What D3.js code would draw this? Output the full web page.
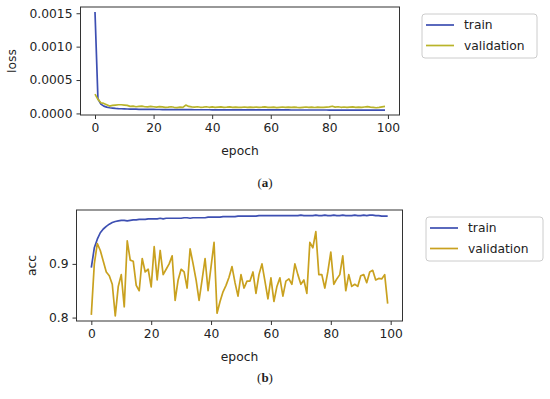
<!DOCTYPE html>
<html>
<head>
<meta charset="utf-8">
<script src="https://cdn.jsdelivr.net/npm/d3@7"></script>
<style>
  html, body { margin: 0; padding: 0; background: #fff; }
  svg { display: block; }
  text { font-family: "DejaVu Sans", sans-serif; fill: #222; }
  .caption { font-family: "Liberation Serif", "Times New Roman", serif; }
</style>
</head>
<body>
<svg id="chart" width="550" height="399"></svg>
<script>
// Training history: loss (a) and accuracy (b) over 100 epochs

const epochs = d3.range(100);
const xTicks = [0, 20, 40, 60, 80, 100];
const lossTicks = [0, 0.0005, 0.0010, 0.0015];
const accTicks = [0.8, 0.9];
const seriesNames = ['train', 'validation'];

const trainLoss = [
  0.00152, 0.00022, 0.00014, 0.00011, 0.000095, 0.000085, 0.00008, 0.000075, 0.000072, 0.00007,
  0.000068, 0.000066, 0.000065, 0.000064, 0.000063, 0.000062, 0.000062, 0.000061, 0.00006, 0.00006,
  0.00006, 0.000059, 0.000059, 0.000058, 0.000058, 0.000058, 0.000057, 0.000057, 0.000057, 0.000057,
  0.000056, 0.000056, 0.000056, 0.000056, 0.000055, 0.000055, 0.000055, 0.000055, 0.000055, 0.000055,
  0.000054, 0.000054, 0.000054, 0.000054, 0.000054, 0.000054, 0.000054, 0.000053, 0.000053, 0.000053,
  0.000053, 0.000053, 0.000053, 0.000053, 0.000053, 0.000053, 0.000052, 0.000052, 0.000052, 0.000052,
  0.000052, 0.000052, 0.000052, 0.000052, 0.000052, 0.000052, 0.000052, 0.000051, 0.000051, 0.000051,
  0.000051, 0.000051, 0.000051, 0.000051, 0.000051, 0.000051, 0.000051, 0.000051, 0.000051, 0.000051,
  0.00005, 0.00005, 0.00005, 0.00005, 0.00005, 0.00005, 0.00005, 0.00005, 0.00005, 0.00005,
  0.00005, 0.00005, 0.00005, 0.00005, 0.00005, 0.00005, 0.00005, 0.00005, 0.00005, 0.00005
];
const valLoss = [
  0.00029, 0.00021, 0.00016, 0.00015, 0.00013, 0.00011, 0.00012, 0.000125, 0.00013, 0.00013,
  0.000125, 0.00012, 0.000105, 0.00011, 0.0001, 0.000105, 0.00011, 0.0001, 0.000098, 0.000105,
  0.0001, 0.000095, 0.000102, 0.000098, 0.000092, 0.000095, 0.0001, 0.000092, 0.000088, 0.000095,
  0.00009, 0.000125, 0.000105, 0.000098, 0.000095, 0.0001, 0.000092, 0.000095, 0.0001, 0.000092,
  0.000098, 0.00009, 0.000095, 0.000098, 0.00009, 0.000093, 0.000097, 0.00009, 0.000095, 0.00009,
  0.000092, 0.000096, 0.00009, 0.000094, 0.000092, 0.000095, 0.00009, 0.000093, 0.000097, 0.00009,
  0.000092, 0.000095, 0.000088, 0.000092, 0.000096, 0.00009, 0.000094, 0.000091, 0.000095, 0.00009,
  0.000088, 0.000092, 0.000096, 0.00009, 0.000093, 0.000089, 0.000094, 0.00009, 0.000092, 0.000095,
  0.000098, 0.000108, 0.000095, 0.0001, 0.000092, 0.000096, 0.00009, 0.000094, 0.000098, 0.000092,
  0.000095, 0.00009, 0.000096, 0.000102, 0.000094, 0.00009, 0.000085, 0.00009, 0.000098, 0.000105
];
const trainAcc = [
  0.893, 0.930, 0.946, 0.958, 0.965, 0.970, 0.974, 0.977, 0.979, 0.980,
  0.981, 0.981, 0.980, 0.981, 0.982, 0.982, 0.983, 0.983, 0.983, 0.984,
  0.984, 0.984, 0.984, 0.985, 0.984, 0.985, 0.985, 0.985, 0.985, 0.985,
  0.985, 0.986, 0.986, 0.985, 0.986, 0.986, 0.986, 0.986, 0.986, 0.987,
  0.987, 0.987, 0.987, 0.987, 0.988, 0.988, 0.988, 0.988, 0.988, 0.989,
  0.989, 0.989, 0.989, 0.989, 0.989, 0.989, 0.990, 0.990, 0.990, 0.990,
  0.990, 0.990, 0.990, 0.990, 0.990, 0.990, 0.990, 0.990, 0.990, 0.990,
  0.991, 0.990, 0.990, 0.990, 0.990, 0.991, 0.990, 0.990, 0.991, 0.990,
  0.990, 0.991, 0.990, 0.990, 0.991, 0.990, 0.990, 0.990, 0.991, 0.990,
  0.990, 0.991, 0.990, 0.991, 0.991, 0.990, 0.990, 0.989, 0.989, 0.989
];
const valAcc = [
  0.805, 0.900, 0.938, 0.925, 0.905, 0.885, 0.878, 0.862, 0.803, 0.858,
  0.880, 0.820, 0.943, 0.907, 0.905, 0.860, 0.850, 0.910, 0.885, 0.890,
  0.857, 0.932, 0.870, 0.925, 0.880, 0.890, 0.900, 0.915, 0.832, 0.870,
  0.890, 0.885, 0.855, 0.928, 0.900, 0.870, 0.832, 0.870, 0.910, 0.850,
  0.895, 0.940, 0.808, 0.830, 0.848, 0.860, 0.875, 0.895, 0.865, 0.840,
  0.880, 0.855, 0.868, 0.868, 0.885, 0.845, 0.880, 0.900, 0.868, 0.835,
  0.874, 0.830, 0.858, 0.874, 0.840, 0.868, 0.872, 0.862, 0.900, 0.880,
  0.862, 0.870, 0.845, 0.940, 0.930, 0.960, 0.880, 0.880, 0.855, 0.885,
  0.922, 0.862, 0.872, 0.880, 0.915, 0.850, 0.880, 0.858, 0.862, 0.858,
  0.878, 0.880, 0.865, 0.885, 0.888, 0.870, 0.873, 0.872, 0.880, 0.826
];

const colors = { train: '#3d4fb2', validation: '#b9b42a' };
const accValColor = '#c9a11f';

const svg = d3.select('#chart');

// matplotlib-style 5% margins around the data
function padded(vals){
  const [lo, hi] = d3.extent(vals);
  const m = (hi - lo) * 0.05;
  return [lo - m, hi + m];
}

function panel(cfg){
  const { left, right, top, bottom } = cfg;
  const x = d3.scaleLinear().domain(padded(epochs)).range([left, right]);
  const y = d3.scaleLinear().domain(padded(cfg.series.flatMap(s => s.values))).range([bottom, top]);

  const g = svg.append('g');

  // lines
  const line = vals => d3.line().x((d, i) => x(epochs[i])).y(d => y(d))(vals);
  cfg.series.forEach(s => {
    g.append('path')
      .attr('d', line(s.values))
      .attr('fill', 'none')
      .attr('stroke', s.color)
      .attr('stroke-width', 1.7)
      .attr('stroke-linejoin', 'round');
  });

  // frame
  g.append('rect')
    .attr('x', left).attr('y', top)
    .attr('width', right - left).attr('height', bottom - top)
    .attr('fill', 'none').attr('stroke', '#333').attr('stroke-width', 1);

  // axes
  const xAxis = g.append('g')
    .attr('transform', `translate(0,${bottom})`)
    .call(d3.axisBottom(x).tickValues(xTicks).tickSize(4).tickPadding(4).tickSizeOuter(0).tickFormat(d3.format('d')));
  const yAxis = g.append('g')
    .attr('transform', `translate(${left},0)`)
    .call(d3.axisLeft(y).tickValues(cfg.yTicks).tickSize(4).tickPadding(4).tickSizeOuter(0).tickFormat(d3.format(cfg.yFmt)));
  [xAxis, yAxis].forEach(a => {
    a.select('.domain').remove();
    a.selectAll('line').attr('stroke', '#333');
    a.selectAll('text').attr('font-size', 12.3).attr('fill', '#222').style('font-family', '"DejaVu Sans", sans-serif');
  });

  // labels
  g.append('text')
    .attr('x', (left + right) / 2).attr('y', cfg.xLabelY)
    .attr('text-anchor', 'middle').attr('font-size', 12.3)
    .text('epoch');
  g.append('text')
    .attr('transform', `translate(${cfg.yLabelX},${(top + bottom) / 2}) rotate(-90)`)
    .attr('text-anchor', 'middle').attr('font-size', 12.3)
    .text(cfg.yLabel);

  // legend
  const lg = g.append('g').attr('transform', `translate(${cfg.legend[0]},${cfg.legend[1]})`);
  lg.append('rect')
    .attr('width', cfg.legend[2]).attr('height', 44).attr('rx', 3)
    .attr('fill', '#fff').attr('stroke', '#ccc').attr('stroke-width', 1);
  cfg.series.forEach((s, i) => {
    const yy = 11 + i * 20.5;
    lg.append('line')
      .attr('x1', 4).attr('x2', 32).attr('y1', yy).attr('y2', yy)
      .attr('stroke', s.color).attr('stroke-width', 1.7);
    lg.append('text')
      .attr('x', 42).attr('y', yy + 4.3)
      .attr('font-size', 12.3)
      .text(s.name);
  });

  // caption
  svg.append('text')
    .attr('class', 'caption')
    .attr('x', cfg.caption[0]).attr('y', cfg.caption[1])
    .attr('text-anchor', 'middle').attr('font-size', 13)
    .html(`(<tspan font-weight="bold">${cfg.captionLetter}</tspan>)`);
}

panel({
  left: 80.5, right: 399.5, top: 7, bottom: 115,
  series: [
    { name: seriesNames[0], values: trainLoss, color: colors.train },
    { name: seriesNames[1], values: valLoss, color: colors.validation }
  ],
  yTicks: lossTicks, yFmt: '.4f', yLabel: 'loss',
  xLabelY: 155, yLabelX: 16,
  legend: [422, 14, 115],
  caption: [265, 187], captionLetter: 'a'
});

panel({
  left: 76.5, right: 402.5, top: 210, bottom: 321,
  series: [
    { name: seriesNames[0], values: trainAcc, color: colors.train },
    { name: seriesNames[1], values: valAcc, color: accValColor }
  ],
  yTicks: accTicks, yFmt: '.1f', yLabel: 'acc',
  xLabelY: 361, yLabelX: 36,
  legend: [426, 217, 117],
  caption: [265, 382], captionLetter: 'b'
});
</script>
</body>
</html>
